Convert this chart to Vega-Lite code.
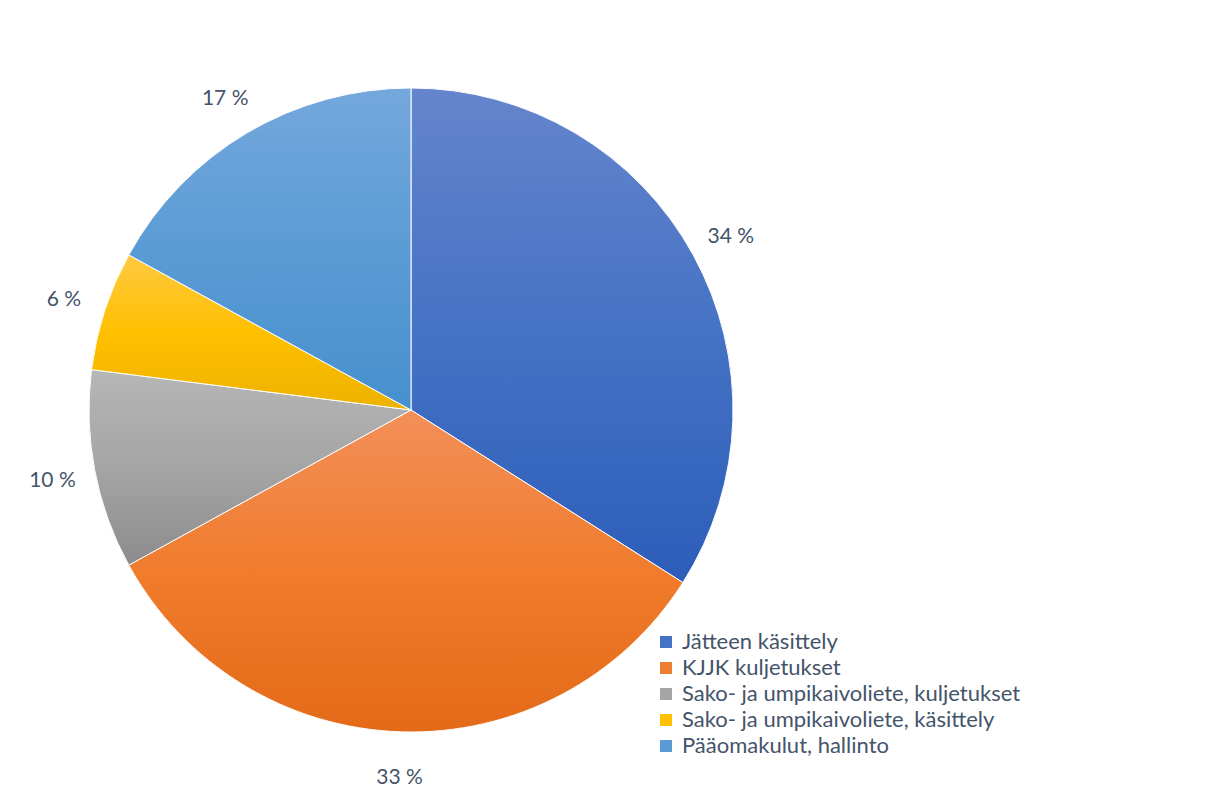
{
  "$schema": "https://vega.github.io/schema/vega-lite/v6.json",
  "width": 644,
  "height": 644,
  "autosize": {"type": "none"},
  "padding": {"left": 89, "top": 88, "right": 475, "bottom": 73},
  "background": "white",
  "config": {"view": {"stroke": null}, "font": "Lato"},
  "data": {
    "values": [
      {"kategoria": "Jätteen käsittely", "osuus": 34, "jarj": 1, "label": "34 %"},
      {"kategoria": "KJJK kuljetukset", "osuus": 33, "jarj": 2, "label": "33 %"},
      {"kategoria": "Sako- ja umpikaivoliete, kuljetukset", "osuus": 10, "jarj": 3, "label": "10 %"},
      {"kategoria": "Sako- ja umpikaivoliete, käsittely", "osuus": 6, "jarj": 4, "label": "6 %"},
      {"kategoria": "Pääomakulut, hallinto", "osuus": 17, "jarj": 5, "label": "17 %"}
    ]
  },
  "transform": [
    {"stack": "osuus", "groupby": [], "sort": [{"field": "jarj", "order": "ascending"}], "as": ["alku", "loppu"]}
  ],
  "layer": [
    {
      "mark": {"type": "arc", "stroke": null},
      "encoding": {
        "theta": {"field": "alku", "type": "quantitative", "scale": {"domain": [0, 100]}},
        "theta2": {"field": "loppu"},
        "color": {
          "field": "kategoria",
          "type": "nominal",
          "scale": {
            "domain": ["Jätteen käsittely", "KJJK kuljetukset", "Sako- ja umpikaivoliete, kuljetukset", "Sako- ja umpikaivoliete, käsittely", "Pääomakulut, hallinto"],
            "range": ["#4472C4", "#ED7D31", "#A5A5A5", "#FFC000", "#5B9BD5"]
          },
          "legend": {
            "title": null,
            "orient": "none",
            "legendX": 566,
            "legendY": 543,
            "padding": 0,
            "symbolType": "square",
            "symbolSize": 144,
            "symbolStrokeWidth": 0,
            "labelFontSize": 22,
            "labelColor": "#44546A",
            "labelFont": "Lato",
            "labelOffset": 5,
            "rowPadding": 4,
            "labelLimit": 600
          }
        }
      }
    },
    {
      "transform": [{"filter": "datum.jarj == 1"}],
      "mark": {
        "type": "arc", "stroke": "#ffffff", "strokeWidth": 1,
        "fill": {"gradient": "linear", "x1": 0, "y1": 0, "x2": 0, "y2": 1,
          "stops": [{"offset": 0, "color": "#6585CD"}, {"offset": 0.5, "color": "#4472C4"}, {"offset": 1, "color": "#2D5DBA"}]}
      },
      "encoding": {
        "theta": {"field": "alku", "type": "quantitative", "scale": {"domain": [0, 100]}},
        "theta2": {"field": "loppu"}
      }
    },
    {
      "transform": [{"filter": "datum.jarj == 2"}],
      "mark": {
        "type": "arc", "stroke": "#ffffff", "strokeWidth": 1,
        "fill": {"gradient": "linear", "x1": 0, "y1": 0, "x2": 0, "y2": 1,
          "stops": [{"offset": 0, "color": "#F38F5A"}, {"offset": 0.5, "color": "#F07C2C"}, {"offset": 1, "color": "#E36A18"}]}
      },
      "encoding": {
        "theta": {"field": "alku", "type": "quantitative", "scale": {"domain": [0, 100]}},
        "theta2": {"field": "loppu"}
      }
    },
    {
      "transform": [{"filter": "datum.jarj == 3"}],
      "mark": {
        "type": "arc", "stroke": "#ffffff", "strokeWidth": 1,
        "fill": {"gradient": "linear", "x1": 0, "y1": 0, "x2": 0, "y2": 1,
          "stops": [{"offset": 0, "color": "#B6B6B6"}, {"offset": 0.5, "color": "#A5A5A5"}, {"offset": 1, "color": "#8C8C8C"}]}
      },
      "encoding": {
        "theta": {"field": "alku", "type": "quantitative", "scale": {"domain": [0, 100]}},
        "theta2": {"field": "loppu"}
      }
    },
    {
      "transform": [{"filter": "datum.jarj == 4"}],
      "mark": {
        "type": "arc", "stroke": "#ffffff", "strokeWidth": 1,
        "fill": {"gradient": "linear", "x1": 0, "y1": 0, "x2": 0, "y2": 1,
          "stops": [{"offset": 0, "color": "#FFC941"}, {"offset": 0.5, "color": "#FFC000"}, {"offset": 1, "color": "#EDB200"}]}
      },
      "encoding": {
        "theta": {"field": "alku", "type": "quantitative", "scale": {"domain": [0, 100]}},
        "theta2": {"field": "loppu"}
      }
    },
    {
      "transform": [{"filter": "datum.jarj == 5"}],
      "mark": {
        "type": "arc", "stroke": "#ffffff", "strokeWidth": 1,
        "fill": {"gradient": "linear", "x1": 0, "y1": 0, "x2": 0, "y2": 1,
          "stops": [{"offset": 0, "color": "#74A8DC"}, {"offset": 0.5, "color": "#5B9BD5"}, {"offset": 1, "color": "#4690CE"}]}
      },
      "encoding": {
        "theta": {"field": "alku", "type": "quantitative", "scale": {"domain": [0, 100]}},
        "theta2": {"field": "loppu"}
      }
    },
    {
      "mark": {"type": "text", "radius": 365, "dy": 3, "fontSize": 21, "fill": "#44546A", "font": "Lato"},
      "encoding": {
        "theta": {"field": "osuus", "type": "quantitative", "stack": true, "scale": {"domain": [0, 100]}},
        "order": {"field": "jarj", "type": "quantitative"},
        "text": {"field": "label", "type": "nominal"}
      }
    }
  ]
}
